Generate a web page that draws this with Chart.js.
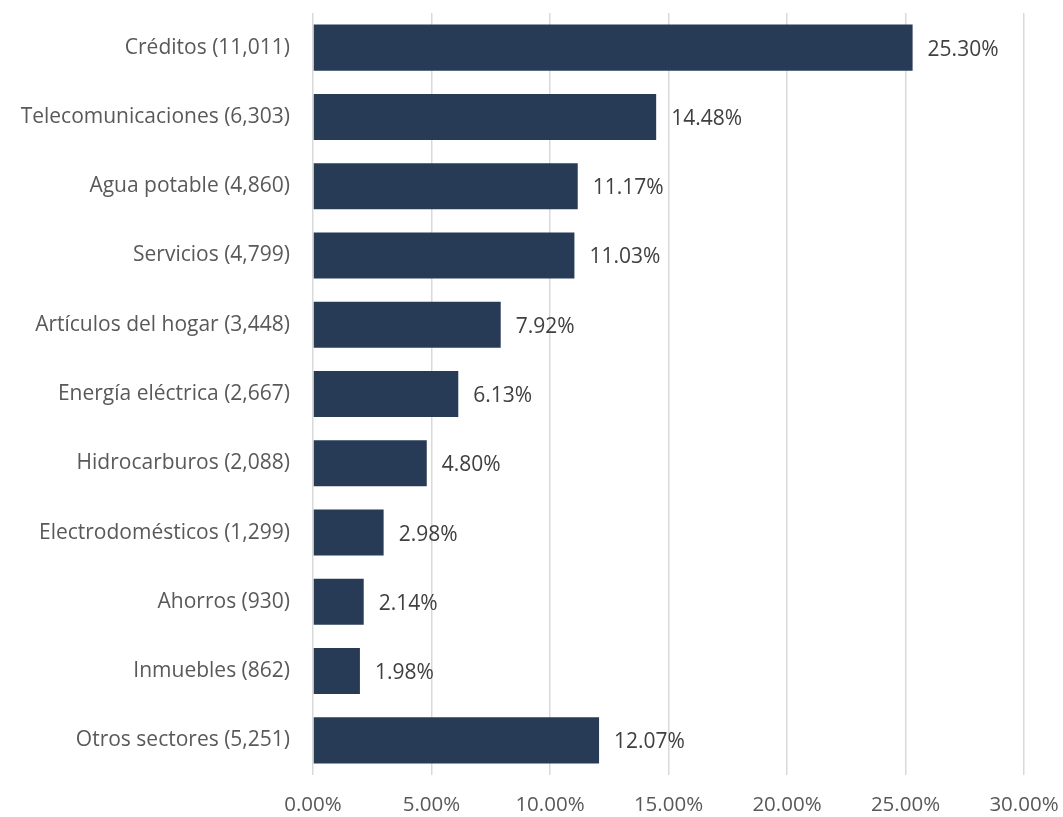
<!DOCTYPE html>
<html lang="es">
<head>
<meta charset="UTF-8">
<title>Quejas por sector</title>
<script src="https://cdn.jsdelivr.net/npm/chart.js@4.4.0/dist/chart.umd.min.js"></script>
<style>
  html, body { margin: 0; background: #ffffff; }
  #wrap { width: 1063px; height: 817px; }
</style>
</head>
<body>
<div id="wrap"><canvas id="myChart"></canvas></div>
<script>
// sectores con el número de quejas entre paréntesis
const sectores = [
    'Créditos (11,011)',
    'Telecomunicaciones (6,303)',
    'Agua potable (4,860)',
    'Servicios (4,799)',
    'Artículos del hogar (3,448)',
    'Energía eléctrica (2,667)',
    'Hidrocarburos (2,088)',
    'Electrodomésticos (1,299)',
    'Ahorros (930)',
    'Inmuebles (862)',
    'Otros sectores (5,251)'
]
const porcentajes = [25.30, 14.48, 11.17, 11.03, 7.92, 6.13, 4.80, 2.98, 2.14, 1.98, 12.07]
const ticksX = [0, 5, 10, 15, 20, 25, 30]

const fuente = '"Open Sans", sans-serif'
const tamano = 21

// escribe el porcentaje al final de cada barra
const etiquetas = {
    id: 'etiquetas',
    afterDatasetsDraw(chart) {
        const ctx = chart.ctx
        const meta = chart.getDatasetMeta(0)
        ctx.save()
        ctx.font = tamano + 'px ' + fuente
        ctx.fillStyle = '#404040'
        ctx.textBaseline = 'middle'
        ctx.textAlign = 'left'
        meta.data.forEach((bar, i) => {
            ctx.fillText(porcentajes[i].toFixed(2) + '%', bar.x + 15, bar.y + 2)
        })
        ctx.restore()
    }
}

let ctx = document.getElementById('myChart').getContext('2d')
let chart = new Chart(ctx, {
    type: 'bar',
    data: {
        labels: sectores,
        datasets: [{
            data: porcentajes,
            backgroundColor: '#283B56',
            borderWidth: 0,
            categoryPercentage: 1,
            barPercentage: 0.665
        }]
    },
    options: {
        indexAxis: 'y',
        responsive: true,
        maintainAspectRatio: false,
        animation: false,
        layout: { padding: { top: 13, right: 39, bottom: 0, left: 0 } },
        plugins: {
            legend: { display: false },
            tooltip: { enabled: false }
        },
        scales: {
            x: {
                min: 0,
                max: 30,
                afterBuildTicks(scale) {
                    scale.ticks = ticksX.map(v => ({ value: v }))
                },
                afterFit(scale) {
                    scale.height = 42
                    scale.paddingLeft = 0
                    scale.paddingRight = 0
                },
                grid: { color: '#D9D9D9', lineWidth: 1.5, drawTicks: false },
                border: { display: false },
                ticks: {
                    padding: 18,
                    color: '#595959',
                    font: { family: fuente, size: 20.5 },
                    callback: v => v.toFixed(2) + '%'
                }
            },
            y: {
                afterFit(scale) {
                    scale.width = 313
                    scale.paddingTop = 0
                    scale.paddingBottom = 0
                },
                grid: { display: false },
                border: { display: false },
                ticks: {
                    padding: 15,
                    color: '#595959',
                    font: { family: fuente, size: tamano }
                }
            }
        }
    },
    plugins: [etiquetas]
})
</script>
</body>
</html>
